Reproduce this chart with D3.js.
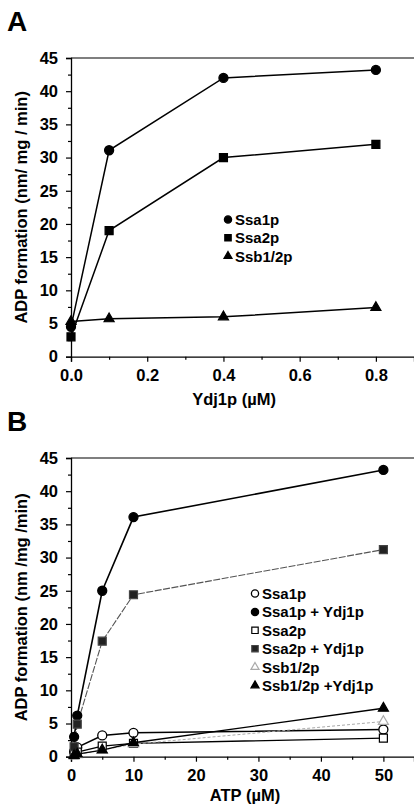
<!DOCTYPE html>
<html lang="en">
  <head>
    <meta charset="utf-8">
    <title>ADP formation</title>
    <style>
      body { margin: 0; background: #fff; }
      svg text { font-family: "Liberation Sans", Arial, sans-serif; font-weight: bold; fill: #000; }
    </style>
  </head>
  <body>
    <svg class="fig"></svg>

    <script src="https://d3js.org/d3.v7.min.js"></script>
    <script type="text/javascript">
      // panel A: ADP formation vs Ydj1p concentration
      var ydjConc = [0, 0.1, 0.4, 0.8];
      var aSsa1p  = [4.5, 31.1, 42.0, 43.2];
      var aSsa2p  = [3.0, 19.0, 30.0, 32.0];
      var aSsb12p = [5.3, 5.7, 6.0, 7.4];
      var aNames  = ['Ssa1p', 'Ssa2p', 'Ssb1/2p'];
      var aTicks  = [0, 0.2, 0.4, 0.6, 0.8];

      // panel B: ADP formation vs ATP concentration
      var atpConc      = [0.5, 1, 5, 10, 50];
      var bSsa1p       = [0.8, 1.4, 3.2, 3.6, 4.1];
      var bSsa1pYdj1p  = [3.0, 6.2, 25.0, 36.1, 43.2];
      var bSsa2p       = [0.3, 0.7, 1.6, 2.0, 2.8];
      var bSsa2pYdj1p  = [1.5, 4.9, 17.4, 24.4, 31.2];
      var bSsb12p      = [0.1, 0.3, 1.0, 1.9, 5.3];
      var bSsb12pYdj1p = [0.2, 0.4, 1.0, 2.1, 7.3];
      var bNames = ['Ssa1p', 'Ssa1p + Ydj1p', 'Ssa2p', 'Ssa2p + Ydj1p', 'Ssb1/2p', 'Ssb1/2p +Ydj1p'];
      var bTicks = [0, 10, 20, 30, 40, 50];

      var yTicks = [0, 5, 10, 15, 20, 25, 30, 35, 40, 45];

      var W = 414, H = 805;
      var svg = d3.select('.fig').attr('width', W).attr('height', H);

      function marker(g, shape, fill, stroke, cx, cy, k) {
        k = k || 1;
        if (shape === 'circle') {
          g.append('circle').attr('cx', cx).attr('cy', cy).attr('r', 4.5 * k)
           .attr('fill', fill).attr('stroke', stroke).attr('stroke-width', 1.3);
        } else {
          var sym = shape === 'square' ? d3.symbolSquare : d3.symbolTriangle;
          var size = (shape === 'square' ? 64 : 44) * k * k;
          g.append('path').attr('d', d3.symbol().type(sym).size(size))
           .attr('transform', 'translate(' + cx + ',' + cy + ')')
           .attr('fill', fill).attr('stroke', stroke).attr('stroke-width', 1.2);
        }
      }

      function panel(opt) {
        var g = svg.append('g');
        var x = d3.scaleLinear().domain(opt.xDomain).range([71, 414]);
        var y = d3.scaleLinear().domain([0, 45]).range([opt.bottom, opt.bottom - 298.7]);

        // panel letter
        g.append('text').attr('x', 7).attr('y', opt.bottom - 326)
         .style('font-size', '28px').text(opt.letter);

        // frame: top line
        g.append('line').attr('x1', 71).attr('x2', 414)
         .attr('y1', y(45)).attr('y2', y(45)).attr('stroke', '#000').attr('stroke-width', 1.2);

        // y axis
        var yAxis = d3.axisLeft(y).tickValues(yTicks).tickSize(5).tickPadding(8);
        var ya = g.append('g').attr('transform', 'translate(71,0)').call(yAxis);
        ya.selectAll('.tick text').style('font-size', '16.5px');
        g.append('g').attr('transform', 'translate(71,0)')
         .call(d3.axisLeft(y).tickValues(d3.range(2.5, 45, 5)).tickSize(3).tickFormat(''))
         .select('.domain').remove();

        // x axis
        var xAxis = d3.axisBottom(x).tickValues(opt.xTicks).tickSize(5).tickPadding(8)
                      .tickFormat(opt.fmt);
        var xa = g.append('g').attr('transform', 'translate(0,' + opt.bottom + ')').call(xAxis);
        xa.selectAll('.tick text').style('font-size', '16.5px');
        g.append('g').attr('transform', 'translate(0,' + opt.bottom + ')')
         .call(d3.axisBottom(x).tickValues(opt.minor).tickSize(3).tickFormat(''))
         .select('.domain').remove();
        g.selectAll('.domain').attr('stroke-width', 1.3);
        g.selectAll('.tick line').attr('stroke-width', 1.2);

        // axis titles
        g.append('text').attr('transform', 'translate(27,' + y(22.5) + ') rotate(-90)')
         .attr('text-anchor', 'middle').style('font-size', '16.5px').text(opt.yTitle);
        g.append('text').attr('x', opt.xTitleX).attr('y', opt.bottom + opt.xTitleDy)
         .attr('text-anchor', 'middle').style('font-size', '16.5px').text(opt.xTitle);

        var line = d3.line().x(function(d) { return x(d[0]); }).y(function(d) { return y(d[1]); });

        opt.series.forEach(function(s) {
          var pts = opt.xs.map(function(v, i) { return [v, s.values[i]]; });
          g.append('path').datum(pts).attr('d', line).attr('fill', 'none')
           .attr('stroke', s.line).attr('stroke-width', s.width)
           .attr('stroke-dasharray', s.dash || null);
        });
        opt.series.forEach(function(s) {
          opt.xs.forEach(function(v, i) {
            marker(g, s.shape, s.fill, s.stroke, x(v), y(s.values[i]));
          });
        });

        // legend
        opt.series.forEach(function(s, i) {
          var ly = opt.legY + i * opt.legStep;
          marker(g, s.shape, s.fill, s.stroke, opt.legX, ly, 0.8);
          g.append('text').attr('x', opt.legX + 7).attr('y', ly + 5.5)
           .style('font-size', '15px').text(s.name);
        });
      }

      panel({
        letter: 'A', bottom: 356.7, xDomain: [0, 0.9], xTicks: aTicks,
        minor: [0.1, 0.3, 0.5, 0.7], fmt: d3.format('.1f'),
        yTitle: 'ADP formation (nm/ mg / min)', xTitle: 'Ydj1p (\u00b5M)', xTitleX: 234, xTitleDy: 48,
        xs: ydjConc, legX: 228, legY: 219.5, legStep: 18.3,
        series: [
          { name: aNames[0], values: aSsa1p, shape: 'circle', fill: '#000', stroke: '#000', line: '#000', width: 1.5 },
          { name: aNames[1], values: aSsa2p, shape: 'square', fill: '#000', stroke: '#000', line: '#000', width: 1.5 },
          { name: aNames[2], values: aSsb12p, shape: 'triangle', fill: '#000', stroke: '#000', line: '#000', width: 1.5 }
        ]
      });

      panel({
        letter: 'B', bottom: 756.7, xDomain: [0, 54.9], xTicks: bTicks,
        minor: [5, 15, 25, 35, 45], fmt: d3.format('d'),
        yTitle: 'ADP formation (nm /mg /min)', xTitle: 'ATP (\u00b5M)', xTitleX: 245, xTitleDy: 44,
        xs: atpConc, legX: 255, legY: 593.5, legStep: 18.4,
        series: [
          { name: bNames[0], values: bSsa1p, shape: 'circle', fill: '#fff', stroke: '#000', line: '#000', width: 1.5 },
          { name: bNames[1], values: bSsa1pYdj1p, shape: 'circle', fill: '#000', stroke: '#000', line: '#000', width: 1.6 },
          { name: bNames[2], values: bSsa2p, shape: 'square', fill: '#fff', stroke: '#000', line: '#000', width: 1.4 },
          { name: bNames[3], values: bSsa2pYdj1p, shape: 'square', fill: '#222', stroke: '#444', line: '#555', width: 1.1, dash: '7,1.5' },
          { name: bNames[4], values: bSsb12p, shape: 'triangle', fill: '#fff', stroke: '#aaa', line: '#aaa', width: 1, dash: '3,2' },
          { name: bNames[5], values: bSsb12pYdj1p, shape: 'triangle', fill: '#000', stroke: '#000', line: '#000', width: 1.3 }
        ]
      });
    </script>
  </body>
</html>
